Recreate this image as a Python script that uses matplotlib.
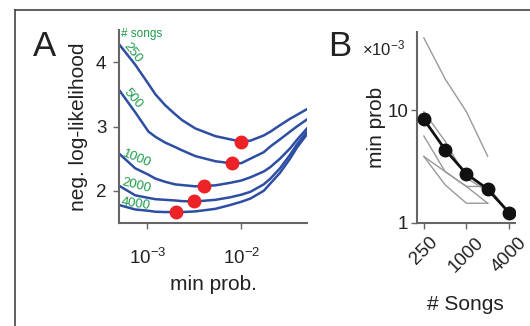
import matplotlib
matplotlib.use('Agg')
import matplotlib.pyplot as plt

plt.rcParams['font.family'] = ['Liberation Sans', 'DejaVu Sans']
plt.rcParams['mathtext.fontset'] = 'custom'
plt.rcParams['mathtext.rm'] = 'Liberation Sans'
plt.rcParams['mathtext.it'] = 'Liberation Sans:italic'

# panel A: likelihood curves for each number of songs
min_prob = [5e-4, 7.45e-4, 1.03e-3, 1.22e-3, 1.55e-3, 1.98e-3, 2.34e-3, 3.24e-3, 5.3e-3,
            7.64e-3, 1e-2, 1.25e-2, 1.73e-2, 2.04e-2, 2.58e-2, 3.3e-2, 3.9e-2, 5e-2]
nll_250 = [4.28, 3.96, 3.66, 3.5, 3.33, 3.19, 3.1, 2.97, 2.85, 2.80, 2.765, 2.78, 2.86, 2.92, 3.02, 3.12, 3.18, 3.27]
nll_500 = [3.57, 3.22, 2.92, 2.84, 2.75, 2.68, 2.63, 2.54, 2.46, 2.43, 2.43, 2.50, 2.60, 2.69, 2.80, 2.92, 3.0, 3.11]
nll_1000 = [2.58, 2.35, 2.25, 2.19, 2.14, 2.10, 2.09, 2.07, 2.085, 2.125, 2.16, 2.21, 2.30, 2.37, 2.50, 2.66, 2.79, 2.97]
nll_2000 = [2.08, 1.93, 1.89, 1.87, 1.86, 1.85, 1.84, 1.835, 1.86, 1.90, 1.94, 1.985, 2.1, 2.19, 2.35, 2.56, 2.72, 2.92]
nll_4000 = [1.78, 1.71, 1.69, 1.675, 1.67, 1.67, 1.67, 1.68, 1.72, 1.78, 1.83, 1.88, 2.0, 2.115, 2.28, 2.50, 2.67, 2.88]
curves = [nll_250, nll_500, nll_1000, nll_2000, nll_4000]
curve_labels = ['250', '500', '1000', '2000', '4000']
best_x = [1e-2, 8e-3, 4e-3, 3.16e-3, 2e-3]
best_y = [2.76, 2.43, 2.07, 1.835, 1.675]

# panel B: best min prob (x 1e-3) vs number of songs
n_songs = [250, 500, 1000, 2000, 4000]
mean_best = [8.3, 4.46, 2.72, 1.99, 1.23]
gray_runs = [
    ([250, 500, 1000, 2000], [44, 19, 9.7, 3.9]),
    ([250, 500, 1000, 2000, 4000], [9.7, 5.3, 2.5, 1.9, 1.25]),
    ([250, 500, 1000, 2000, 4000], [5.9, 2.85, 2.1, 2.1, 1.23]),
    ([250, 500, 1000, 2000], [3.88, 2.85, 2.1, 1.49]),
    ([250, 500, 1000, 2000], [3.88, 2.17, 1.49, 1.49]),
]

blue = '#2d4ea3'
green = '#1f9a4a'
red = '#ec2227'
axcol = '#666666'
txt = '#222222'

fig = plt.figure(figsize=(5.3, 3.26), dpi=100)

# frame around the figure (cropped on right/bottom)
fig.add_artist(plt.Line2D([15/530, 15/530], [0, 1 - 10/326], color='#444444', lw=1.2))
fig.add_artist(plt.Line2D([15/530, 1], [1 - 10/326, 1 - 10/326], color='#444444', lw=1.2))

axA = fig.add_axes([119/530, 103/326, 188/530, 193/326])
for c in curves:
    axA.plot(min_prob, c, color=blue, lw=1.8)
axA.plot(best_x, best_y, 'o', color=red, ms=9, zorder=5)
axA.set_xscale('log')
axA.set_xlim(5e-4, 5e-2)
axA.set_ylim(1.5, 4.5)
axA.set_yticks([2, 3, 4])
axA.set_xticks([1e-3, 1e-2])
axA.xaxis.set_minor_locator(matplotlib.ticker.NullLocator())
axA.set_xticklabels(['$10^{-3}$', '$10^{-2}$'])
axA.spines['top'].set_visible(False)
axA.spines['right'].set_visible(False)
for s in ['left', 'bottom']:
    axA.spines[s].set_color(axcol)
    axA.spines[s].set_linewidth(1.5)
axA.tick_params(colors=axcol, labelcolor=txt, labelsize=13.5, length=4, width=1)
axA.tick_params(axis='y', pad=5)
axA.tick_params(axis='x', pad=14)
axA.set_xlabel('min prob.', fontsize=15, color=txt, labelpad=5)
axA.set_ylabel('neg. log-likelihood', fontsize=15, color=txt, labelpad=6)

axA.text(5.2e-4, 4.53, '# songs', color=green, fontsize=8.5, va='top', ha='left')
label_pos = [(5.3e-4, 4.22, -52), (5.3e-4, 3.5, -50), (5.2e-4, 2.5, -22), (5.2e-4, 2.05, -14), (5.2e-4, 1.74, -8)]
for lbl, (lx, ly, rot) in zip(curve_labels, label_pos):
    axA.text(lx, ly, lbl, color=green, fontsize=9.5, rotation=rot, ha='left', va='bottom',
             rotation_mode='anchor')

fig.text(33/530, 1 - 47/326, 'A', fontsize=25, va='center', ha='left', color=txt)

axB = fig.add_axes([416.7/530, 103.3/326, 98.3/530, 191/326])
for xs, ys in gray_runs:
    axB.plot(xs, ys, color='#999999', lw=1)
axB.plot(n_songs, mean_best, '-o', color='#111111', lw=2, ms=9, zorder=5)
axB.set_xscale('log')
axB.set_yscale('log')
axB.set_xlim(198, 4870)
axB.set_ylim(1, 50)
axB.set_xticks([250, 1000, 4000])
axB.set_xticklabels(['250', '1000', '4000'], rotation=45, ha='center')
axB.set_yticks([1, 10])
axB.set_yticklabels(['1', '10'])
axB.xaxis.set_minor_locator(matplotlib.ticker.NullLocator())
axB.yaxis.set_minor_locator(matplotlib.ticker.NullLocator())
axB.spines['top'].set_visible(False)
axB.spines['right'].set_visible(False)
for s in ['left', 'bottom']:
    axB.spines[s].set_color(axcol)
    axB.spines[s].set_linewidth(1.5)
axB.tick_params(colors=axcol, labelcolor=txt, labelsize=13.5, length=4, width=1)
axB.tick_params(axis='x', pad=4)
axB.tick_params(axis='y', pad=2)
axB.set_xlabel('# Songs', fontsize=15, color=txt, labelpad=14)
axB.set_ylabel('min prob', fontsize=15, color=txt, labelpad=1)
fig.text(362/530, 1 - 48/326, r'$\times\mathregular{10^{-3}}$', fontsize=12, va='center', ha='left',
         color=txt)
fig.text(328/530, 1 - 47/326, 'B', fontsize=25, va='center', ha='left', color=txt)

fig.savefig('out.png', dpi=100)
